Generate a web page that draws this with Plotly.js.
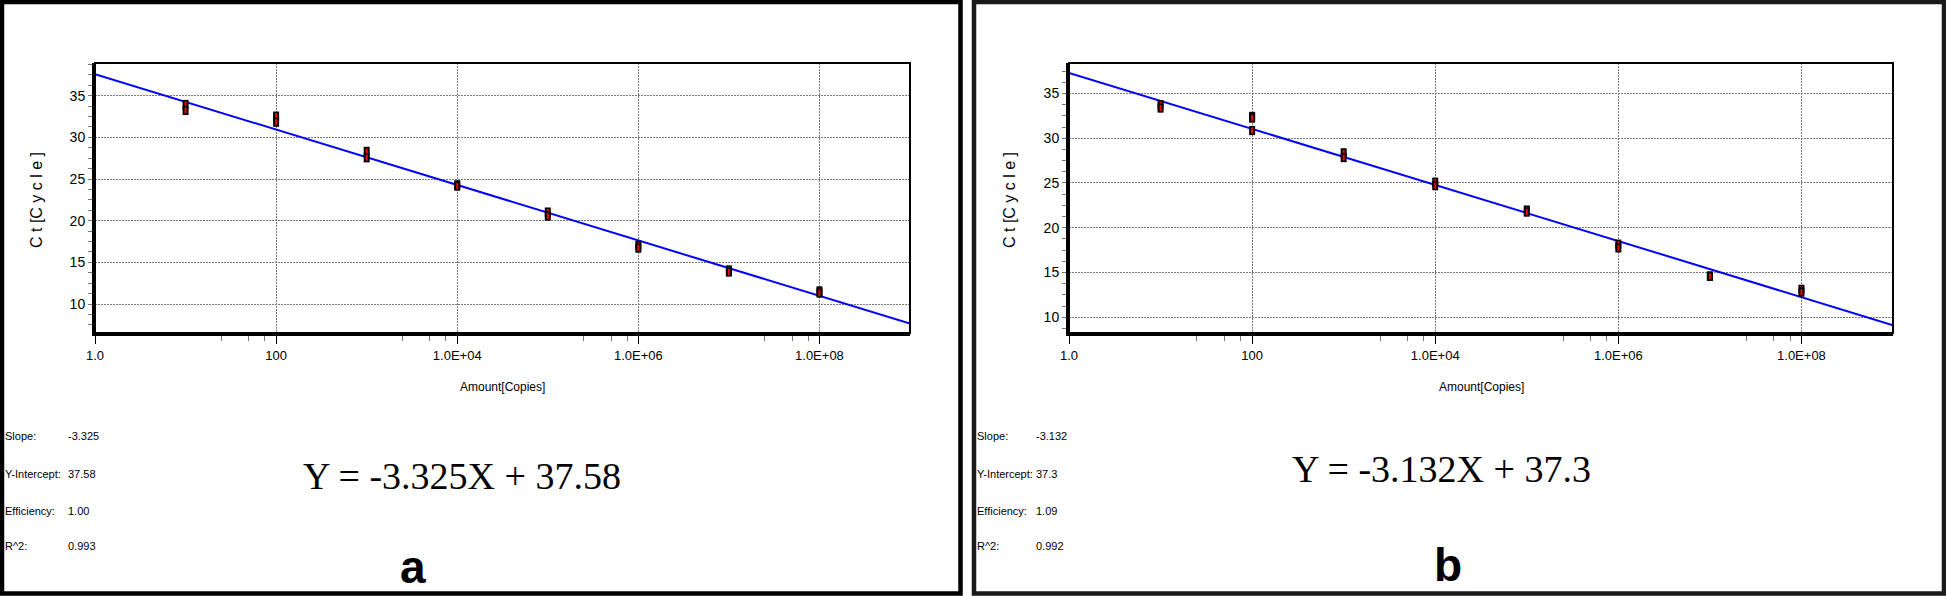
<!DOCTYPE html>
<html>
<head>
<meta charset="utf-8">
<script src="https://cdn.plot.ly/plotly-3.0.1.min.js"></script>
<style>
  html, body { margin: 0; padding: 0; background: #ffffff; }
  #chart { width: 1946px; height: 596px; }
</style>
</head>
<body>
<div id="chart"></div>
<script>
// ---------- data ----------
const copies = [10, 100, 1000, 10000, 100000, 1000000, 10000000, 100000000];
// panel a replicate Ct values
const ctA1 = [33.94, 32.54, 28.31, 24.30, 21.03, 17.04, 14.08, 11.56];
const ctA2 = [33.23, 31.82, 27.55, 24.15, 20.55, 16.71, 13.84, 11.32];
// panel b replicate Ct values
const ctB1 = [33.74, 32.43, 28.36, 25.08, 21.97, 18.16, 14.61, 13.12];
const ctB2 = [33.37, 32.25, 27.84, 24.70, 21.75, 17.75, 14.57, 12.81];
const ctB3 = [null, 30.86, null, null, null, null, null, null];

const slopes = [-3.325, -3.132];
const intercepts = [37.58, 37.3];
const slopeText = ["-3.325", "-3.132"];
const interceptText = ["37.58", "37.3"];
const efficiencyText = ["1.00", "1.09"];
const r2Text = ["0.993", "0.992"];
const equationText = ["Y = -3.325X + 37.58", "Y = -3.132X + 37.3"];
const panelLetters = ["a", "b"];

const xTickVals = [1, 100, 10000, 1000000, 100000000];
const xTickText = ["1.0", "100", "1.0E+04", "1.0E+06", "1.0E+08"];
const xMinorVals = [25, 50, 75, 2500, 5000, 7500, 250000, 500000, 750000, 25000000, 50000000, 75000000];
const yTickVals = [10, 15, 20, 25, 30, 35];

// ---------- page geometry (pixels) ----------
const W = 1946, H = 596;
const px = v => v / W;
const py = v => 1 - v / H;

const sans = "Liberation Sans, Arial, sans-serif";
const serif = "Liberation Serif, Times New Roman, serif";

const logRange = [0, 9];

function fitTrace(i, xa, ya) {
  const xs = [Math.pow(10, logRange[0]), Math.pow(10, logRange[1])];
  const ys = [intercepts[i] + slopes[i] * logRange[0], intercepts[i] + slopes[i] * logRange[1]];
  return { x: xs, y: ys, xaxis: xa, yaxis: ya, mode: 'lines', type: 'scatter',
           line: { color: '#0000ff', width: 2 }, hoverinfo: 'skip', showlegend: false };
}
function repTraces(vals, xa, ya) {
  return [
    { x: copies, y: vals, xaxis: xa, yaxis: ya, mode: 'markers', type: 'scatter', showlegend: false,
      marker: { symbol: 'line-ns', size: 6.6, color: '#000000', line: { color: '#000000', width: 6 } } },
    { x: copies, y: vals, xaxis: xa, yaxis: ya, mode: 'markers', type: 'scatter', showlegend: false,
      marker: { symbol: 'line-ns', size: 4.3, color: '#ff0000', line: { color: '#ff0000', width: 2 } } }
  ];
}

const traces = [
  fitTrace(0, 'x', 'y'),
  ...repTraces(ctA1, 'x', 'y'),
  ...repTraces(ctA2, 'x', 'y'),
  fitTrace(1, 'x2', 'y2'),
  ...repTraces(ctB1, 'x2', 'y2'),
  ...repTraces(ctB2, 'x2', 'y2'),
  ...repTraces(ctB3, 'x2', 'y2')
];

function xAxis(domain, anchor) {
  return {
    type: 'log', range: logRange, domain: domain, anchor: anchor,
    tickmode: 'array', tickvals: xTickVals, ticktext: xTickText,
    ticks: 'outside', ticklen: 8, tickwidth: 1, tickcolor: '#000000',
    tickfont: { family: sans, size: 13, color: '#000000' },
    showgrid: true, gridcolor: '#7a7a7a', gridwidth: 1, griddash: '2px,1px',
    showline: true, linecolor: '#000000', linewidth: 3, mirror: false,
    zeroline: false, fixedrange: true,
    minor: { tickmode: 'array', tickvals: xMinorVals, ticks: 'outside', ticklen: 5, tickwidth: 1, tickcolor: '#777777', showgrid: false }
  };
}
function yAxis(domain, anchor, range) {
  return {
    range: range, domain: domain, anchor: anchor,
    tickmode: 'array', tickvals: yTickVals,
    ticks: 'outside', ticklen: 4, tickwidth: 1, tickcolor: '#777777',
    tickfont: { family: sans, size: 14, color: '#000000' },
    showgrid: true, gridcolor: '#7a7a7a', gridwidth: 1, griddash: '2px,1px',
    showline: true, linecolor: '#000000', linewidth: 3, mirror: false,
    zeroline: false, fixedrange: true,
    minor: { dtick: 1.25, tick0: 0, ticks: 'outside', ticklen: 4, tickwidth: 1, tickcolor: '#777777', showgrid: false }
  };
}

const yDomain = [py(333), py(63)];

// panel frames and plot frames
const shapes = [
  { type: 'rect', xref: 'paper', yref: 'paper', x0: px(2), x1: px(960.5), y0: py(2), y1: py(593.5),
    line: { color: '#000000', width: 4.5 } },
  { type: 'rect', xref: 'paper', yref: 'paper', x0: px(974), x1: px(1944), y0: py(2), y1: py(593.5),
    line: { color: '#1a1a1a', width: 4.5 } },
  { type: 'rect', xref: 'x domain', yref: 'y domain', x0: 0, x1: 1, y0: 0, y1: 1,
    line: { color: '#000000', width: 2 } },
  { type: 'rect', xref: 'x2 domain', yref: 'y2 domain', x0: 0, x1: 1, y0: 0, y1: 1,
    line: { color: '#000000', width: 2 } }
];

const annotations = [];
function addText(text, x, y, opts) {
  annotations.push(Object.assign({
    text: text, xref: 'paper', yref: 'paper', x: px(x), y: py(y),
    xanchor: 'left', yanchor: 'middle', showarrow: false,
    font: { family: sans, size: 11, color: '#000000' }
  }, opts || {}));
}

const panelLeft = [3, 975];
const valueLeft = [66, 1034];
const statY = [436, 474, 511, 546];
const plotCenterX = [502, 1481];
const eqX = [462, 1441], eqY = [476, 469];
const letterX = [413, 1448], letterY = [567, 565];
const yTitleX = [37, 1010];

for (let i = 0; i < 2; i++) {
  addText('Slope:', panelLeft[i], statY[0]);
  addText(slopeText[i], valueLeft[i], statY[0]);
  addText('Y-Intercept:', panelLeft[i], statY[1]);
  addText(interceptText[i], valueLeft[i], statY[1]);
  addText('Efficiency:', panelLeft[i], statY[2]);
  addText(efficiencyText[i], valueLeft[i], statY[2]);
  addText('R^2:', panelLeft[i], statY[3]);
  addText(r2Text[i], valueLeft[i], statY[3]);
  addText(equationText[i], eqX[i], eqY[i], { xanchor: 'center', font: { family: serif, size: 38, color: '#000000' } });
  addText('<b>' + panelLetters[i] + '</b>', letterX[i], letterY[i], { xanchor: 'center', font: { family: sans, size: 46, color: '#000000' } });
  addText('Amount[Copies]', plotCenterX[i], 387, { xanchor: 'center', font: { family: sans, size: 12, color: '#000000' } });
  addText('C t [C y c l e ]', yTitleX[i], 200, { xanchor: 'center', textangle: -90, font: { family: sans, size: 16, color: '#000000' } });
}

const layout = {
  width: W, height: H,
  margin: { l: 0, r: 0, t: 0, b: 0, pad: 0 },
  paper_bgcolor: '#ffffff', plot_bgcolor: '#ffffff',
  showlegend: false, hovermode: false,
  xaxis: xAxis([px(95), px(910)], 'y'),
  yaxis: yAxis(yDomain, 'x', [6.52, 38.92]),
  xaxis2: xAxis([px(1069), px(1893)], 'y2'),
  yaxis2: yAxis(yDomain, 'x2', [8.24, 38.40]),
  shapes: shapes,
  annotations: annotations
};

Plotly.newPlot('chart', traces, layout, { staticPlot: true, displayModeBar: false });
</script>
</body>
</html>
